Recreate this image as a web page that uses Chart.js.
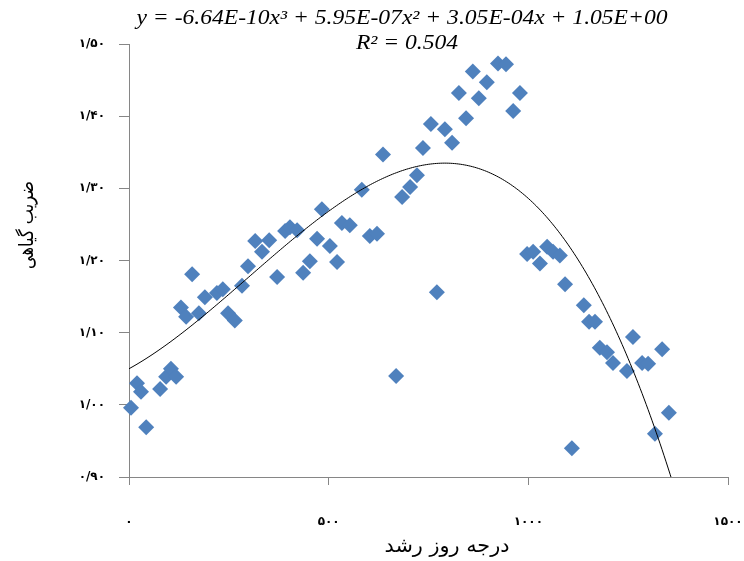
<!DOCTYPE html>
<html><head><meta charset="utf-8">
<script src="https://cdn.jsdelivr.net/npm/chart.js@4.4.0/dist/chart.umd.min.js"></script>
<style>html,body{margin:0;padding:0;background:#fff;}#wrap{width:744px;height:561px;position:relative;}</style>
</head><body><div id="wrap"><canvas id="c" width="744" height="561"></canvas></div>
<script>
// Growing degree days (x) and crop coefficient (y)
const gddValues = [5,20,30,43,78,93,105,118,130,143,158,175,190,220,235,248,265,283,298,316,333,351,371,391,403,421,436,453,471,483,503,521,533,553,583,603,621,636,669,684,704,721,736,756,771,791,809,826,844,861,876,896,924,944,962,979,997,1012,1029,1047,1062,1079,1092,1109,1139,1152,1167,1179,1197,1212,1247,1262,1285,1300,1317,1335,1352];
const kcValues = [0.996,1.030,1.018,0.969,1.022,1.039,1.050,1.039,1.135,1.122,1.181,1.127,1.149,1.155,1.160,1.127,1.117,1.165,1.192,1.227,1.212,1.228,1.177,1.241,1.246,1.242,1.183,1.199,1.230,1.271,1.220,1.198,1.252,1.249,1.298,1.234,1.237,1.347,1.040,1.288,1.302,1.318,1.356,1.389,1.156,1.382,1.363,1.432,1.397,1.462,1.425,1.447,1.473,1.472,1.407,1.432,1.209,1.212,1.196,1.219,1.212,1.207,1.167,0.940,1.138,1.115,1.115,1.079,1.073,1.058,1.047,1.094,1.058,1.057,0.960,1.077,0.989];
// Printed trendline coefficients (x^3, x^2, x, const)
const trendCoefficients = [-6.64e-10, 5.95e-7, 3.05e-4, 1.05];
const xTickLabels = ['۰','۵۰۰','۱۰۰۰','۱۵۰۰'];
const yTickLabels = ['۰/۹۰','۱/۰۰','۱/۱۰','۱/۲۰','۱/۳۰','۱/۴۰','۱/۵۰'];
const equationText = 'y = -6.64E-10x³ + 5.95E-07x² + 3.05E-04x + 1.05E+00';
const r2Text = 'R² = 0.504';
const xTitle = 'درجه روز رشد';
const yTitle = 'ضریب گیاهی';

const points = gddValues.map((x, i) => ({x, y: kcValues[i]}));
const trend = [];
for (let x = 0; x <= 1360; x += 5) {
  const [a, b, c, d] = trendCoefficients;
  trend.push({x, y: a*x*x*x + b*x*x + c*x + d});
}

function fitText(ctx, text, cx, cy, targetW) {
  const w = ctx.measureText(text).width;
  const k = targetW / w;
  ctx.save();
  ctx.translate(cx, cy);
  ctx.scale(k, 1);
  ctx.fillText(text, 0, 0);
  ctx.restore();
  return k;
}

const textPlugin = {
  id: 'texts',
  afterDraw(chart) {
    const ctx = chart.ctx;
    ctx.save();
    ctx.fillStyle = '#000';
    ctx.textAlign = 'center';
    ctx.textBaseline = 'middle';
    ctx.font = 'italic 20px "Liberation Serif"';
    const k = fitText(ctx, equationText, 402, 19, 531);
    ctx.save();
    ctx.translate(407, 44);
    ctx.scale(k, 1);
    ctx.fillText(r2Text, 0, 0);
    ctx.restore();
    ctx.font = '20px "DejaVu Sans"';
    fitText(ctx, xTitle, 447, 547, 125);
    ctx.translate(28, 225);
    ctx.rotate(-Math.PI / 2);
    fitText(ctx, yTitle, 0, 0, 88);
    ctx.restore();
  }
};

new Chart(document.getElementById('c'), {
  type: 'scatter',
  data: {
    datasets: [
      {
        label: 'kc',
        data: points,
        pointStyle: 'rectRot',
        pointRadius: 8,
        pointBackgroundColor: '#4F81BD',
        pointBorderColor: '#4F81BD',
        pointBorderWidth: 0,
        clip: false,
        order: 1
      },
      {
        type: 'line',
        label: 'trend',
        data: trend,
        borderColor: '#000',
        borderWidth: 1,
        pointRadius: 0,
        fill: false,
        tension: 0,
        order: 0
      }
    ]
  },
  options: {
    responsive: false,
    animation: false,
    layout: {padding: {top: 44, right: 16, left: 0, bottom: 0}},
    plugins: {legend: {display: false}, tooltip: {enabled: false}},
    scales: {
      x: {
        type: 'linear', min: 0, max: 1500,
        afterFit: s => { s.height = 84; s.paddingRight = 0; s.paddingLeft = 0; },
        ticks: {stepSize: 500, callback: (v, i) => xTickLabels[i], color: '#000',
          font: {family: '"DejaVu Sans"', size: 12, weight: 'bold'}, padding: 30, maxRotation: 0},
        grid: {drawOnChartArea: false, tickLength: 8, color: '#868686'},
        border: {color: '#868686', width: 1}
      },
      y: {
        min: 0.9, max: 1.5,
        afterFit: s => { s.width = 129; s.paddingTop = 0; s.paddingBottom = 0; },
        ticks: {stepSize: 0.1, callback: (v, i) => yTickLabels[i], color: '#000',
          font: {family: '"DejaVu Sans"', size: 12, weight: 'bold'}, padding: 14},
        grid: {drawOnChartArea: false, tickLength: 10, color: '#868686'},
        border: {color: '#868686', width: 1}
      }
    }
  },
  plugins: [textPlugin]
});
</script></body></html>
